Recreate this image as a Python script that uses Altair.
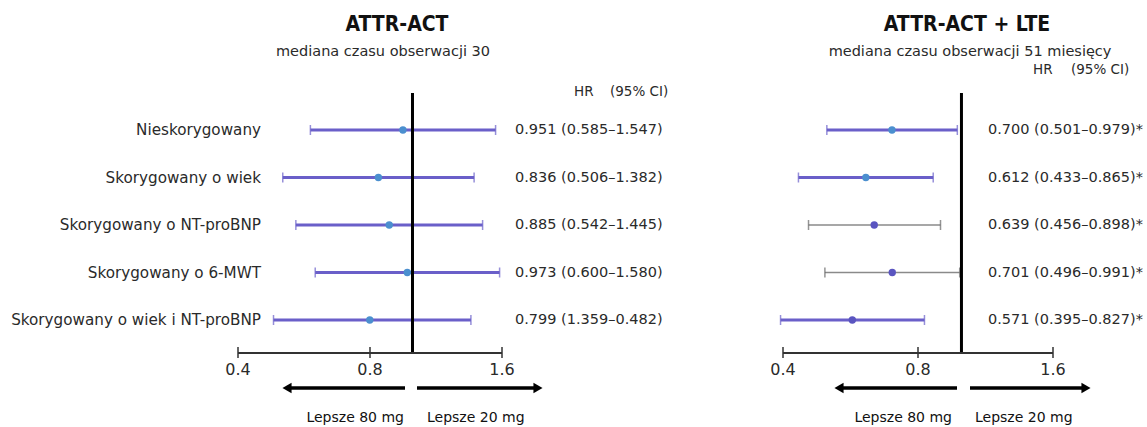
import altair as alt
import pandas as pd

# Models (rows of the forest plot)
rows = [
    "Nieskorygowany",
    "Skorygowany o wiek",
    "Skorygowany o NT-proBNP",
    "Skorygowany o 6-MWT",
    "Skorygowany o wiek i NT-proBNP",
]

# ATTR-ACT: hazard ratios with 95% CI
act_hr = [0.951, 0.836, 0.885, 0.973, 0.799]
act_lo = [0.585, 0.506, 0.542, 0.600, 0.482]
act_hi = [1.547, 1.382, 1.445, 1.580, 1.359]
act_txt = [
    "0.951 (0.585–1.547)",
    "0.836 (0.506–1.382)",
    "0.885 (0.542–1.445)",
    "0.973 (0.600–1.580)",
    "0.799 (1.359–0.482)",
]

# ATTR-ACT + LTE: hazard ratios with 95% CI
lte_hr = [0.700, 0.612, 0.639, 0.701, 0.571]
lte_lo = [0.501, 0.433, 0.456, 0.496, 0.395]
lte_hi = [0.979, 0.865, 0.898, 0.991, 0.827]
lte_txt = [
    "0.700 (0.501–0.979)*",
    "0.612 (0.433–0.865)*",
    "0.639 (0.456–0.898)*",
    "0.701 (0.496–0.991)*",
    "0.571 (0.395–0.827)*",
]

ticks = [0.4, 0.8, 1.6]
tick_labels = ["0.4", "0.8", "1.6"]

FONT = "DejaVu Sans"
TITLE_FONT = "Liberation Sans Narrow, DejaVu Sans Condensed, sans-serif"
PURPLE = "#6a5fc9"
BLUE = "#4b8fcf"
VIOLET = "#5a55c0"
GREY = "#8a8a8a"
INK = "#2a2a2a"

y_enc = alt.Y("row:N", sort=rows, axis=None,
              scale=alt.Scale(type="point", domain=rows, range=[130, 320], padding=0))

one = pd.DataFrame({"k": [0]})


def pick(grey_rows, when_grey, otherwise):
    if grey_rows:
        return alt.condition(alt.FieldOneOfPredicate(field="row", oneOf=grey_rows),
                             alt.value(when_grey), alt.value(otherwise))
    return alt.value(otherwise)


def panel(hr, lo, hi, txt, x_range, grey_rows, violet_rows, txt_x, hdr_x, hdr_y,
          title, subtitle, title_x, sub_x, arrows, lab_l, lab_r):
    df = pd.DataFrame({"row": rows, "hr": hr, "lo": lo, "hi": hi, "txt": txt})
    xs = alt.Scale(type="log", domain=[0.4, 1.6], range=x_range, nice=False)

    base = alt.Chart(df)
    ci = base.mark_rule().encode(
        x=alt.X("lo:Q", scale=xs, axis=None), x2="hi:Q", y=y_enc,
        color=pick(grey_rows, GREY, PURPLE),
        strokeWidth=pick(grey_rows, 1.5, 3),
    )
    cap_lo = base.mark_tick(orient="vertical", size=10, thickness=1.5).encode(
        x=alt.X("lo:Q", scale=xs, axis=None), y=y_enc,
        color=pick(grey_rows, "#666666", PURPLE),
    )
    cap_hi = base.mark_tick(orient="vertical", size=10, thickness=1.5).encode(
        x=alt.X("hi:Q", scale=xs, axis=None), y=y_enc,
        color=pick(grey_rows, "#666666", PURPLE),
    )
    pts = base.mark_point(filled=True, shape="circle", size=55, opacity=1).encode(
        x=alt.X("hr:Q", scale=xs, axis=None), y=y_enc,
        color=pick(violet_rows, VIOLET, BLUE),
    )
    hr_text = base.mark_text(align="left", baseline="middle", font=FONT,
                             fontSize=14.5, color=INK).encode(
        x=alt.value(txt_x), y=y_enc, text="txt:N")

    c1 = alt.Chart(one)
    ref = c1.mark_rule(color="black", strokeWidth=3).encode(
        x=alt.X("one_hr:Q", scale=xs, axis=None), y=alt.value(93), y2=alt.value(353)
    ).transform_calculate(one_hr="1")
    tdf = pd.DataFrame({"t": ticks, "lab": tick_labels})
    axis_line = alt.Chart(tdf).mark_rule(color="#333333", strokeWidth=2).encode(
        x=alt.X("min(t):Q", scale=xs, axis=None), x2="max(t):Q", y=alt.value(353))
    tick_marks = alt.Chart(tdf).mark_rule(color="#333333", strokeWidth=1.5).encode(
        x=alt.X("t:Q", scale=xs, axis=None), y=alt.value(347), y2=alt.value(358))
    tick_text = alt.Chart(tdf).mark_text(font=FONT, fontSize=16, color=INK,
                                         baseline="middle").encode(
        x=alt.X("t:Q", scale=xs, axis=None), y=alt.value(370), text="lab:N")

    def label(txt_value, x, y, size=12, align="left", **kw):
        return c1.mark_text(font=kw.pop("font", FONT), fontSize=size, color=kw.pop("color", INK),
                            align=align, baseline="middle", **kw).encode(
            x=alt.value(x), y=alt.value(y), text=alt.value(txt_value))

    hdr_hr = label("HR", hdr_x[0], hdr_y, size=13.5)
    hdr_ci = label("(95% CI)", hdr_x[1], hdr_y, size=13.5)
    ttl = label(title, title_x, 25, size=21, align="center", font=TITLE_FONT,
                fontWeight="bold", color="#111111")
    sub = label(subtitle, sub_x, 52, size=14.5, align="center")

    (l0, l1, r0, r1) = arrows
    arr_l = c1.mark_rule(color="black", strokeWidth=3.5).encode(
        x=alt.value(l0 + 5), x2=alt.value(l1), y=alt.value(388))
    arr_r = c1.mark_rule(color="black", strokeWidth=3.5).encode(
        x=alt.value(r0), x2=alt.value(r1 - 5), y=alt.value(388))
    head_l = c1.mark_point(shape="triangle-left", filled=True, size=110, color="black",
                           opacity=1).encode(x=alt.value(l0 + 4), y=alt.value(388))
    head_r = c1.mark_point(shape="triangle-right", filled=True, size=110, color="black",
                           opacity=1).encode(x=alt.value(r1 - 4), y=alt.value(388))
    lab80 = label("Lepsze 80 mg", lab_l, 418, size=14, align="right", color="#111111")
    lab20 = label("Lepsze 20 mg", lab_r, 418, size=14, align="left", color="#111111")

    return [ci, cap_lo, cap_hi, ref, pts, axis_line, tick_marks, tick_text,
            hr_text, hdr_hr, hdr_ci, ttl, sub, arr_l, arr_r, head_l, head_r,
            lab80, lab20]


left = panel(act_hr, act_lo, act_hi, act_txt, [238, 502], [], [],
             515, (574, 610), 92, "ATTR-ACT", "mediana czasu obserwacji 30",
             397, 383, (283, 405, 417, 542), 404, 427)
right = panel(lte_hr, lte_lo, lte_hi, lte_txt, [783, 1053],
              ["Skorygowany o NT-proBNP", "Skorygowany o 6-MWT"],
              ["Skorygowany o NT-proBNP", "Skorygowany o 6-MWT",
               "Skorygowany o wiek i NT-proBNP"],
              988, (1033, 1071), 70, "ATTR-ACT + LTE",
              "mediana czasu obserwacji 51 miesięcy",
              967, 970, (835, 957, 970, 1090), 952, 975)

row_labels = alt.Chart(pd.DataFrame({"row": rows})).mark_text(
    align="right", baseline="middle", font=FONT, fontSize=15.2, color=INK
).encode(x=alt.value(261), y=y_enc, text="row:N")

chart = alt.layer(row_labels, *left, *right).resolve_scale(x="independent").properties(
    width=1147, height=427, autosize=alt.AutoSizeParams(type="none"), padding=0,
    background="white",
).configure_view(strokeWidth=0)

chart.save("out.html", embed_options={"renderer": "svg", "actions": False})
